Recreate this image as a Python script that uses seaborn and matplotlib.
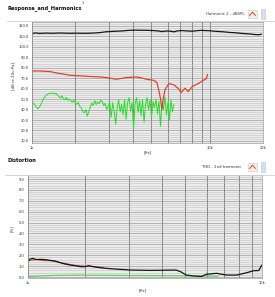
import matplotlib
matplotlib.use('Agg')
import numpy as np
import pandas as pd
import seaborn as sns
import matplotlib.pyplot as plt
from matplotlib.lines import Line2D
from matplotlib.patches import Rectangle
from matplotlib.ticker import FixedLocator, MultipleLocator, NullFormatter, FuncFormatter

# ---------------- data ----------------
resp_freq = [1000, 1050, 1100, 1200, 1300, 1450, 1600, 1800, 2000, 2200, 2400, 2600, 2900,
             3200, 3500, 3800, 4200, 4700, 5100, 5400, 5700, 6000, 6300, 6600, 7000, 7500,
             8000, 8500, 9000, 10000, 11000, 12000, 13000, 14000, 15000, 16000, 17000,
             18000, 19000, 19600]
resp_spl = [112.8, 113.4, 112.9, 113.2, 113.0, 113.3, 113.0, 113.1, 113.0, 113.2, 113.6,
            114.4, 114.9, 115.2, 115.8, 116.0, 115.9, 115.7, 115.3, 114.6, 115.2, 115.0,
            114.4, 115.3, 115.6, 115.2, 115.0, 115.5, 115.8, 115.4, 114.8, 114.4, 113.8,
            113.5, 113.0, 112.6, 112.3, 111.8, 111.6, 112.2]

h2_freq = [1000, 1100, 1186, 1270, 1354, 1500, 1648, 1880, 2150, 2446, 2700, 2980, 3398,
           3876, 4150, 4419, 4842, 5050, 5171, 5300, 5387, 5480, 5612, 5905, 6311, 6647,
           6921, 7100, 7290, 7590, 7991, 8654, 9237, 9610, 9737]
h2_spl = [76.8, 77.0, 76.6, 76.3, 75.2, 74.0, 72.8, 72.2, 71.6, 71.2, 70.3, 69.0, 70.6,
          71.2, 70.2, 69.0, 68.0, 66.0, 59.0, 50.0, 40.0, 50.0, 59.0, 65.0, 63.5, 60.4,
          56.3, 58.5, 60.4, 57.2, 62.0, 65.0, 68.0, 69.7, 73.7]

h2_noise_start, h2_noise_stop = 1000, 6300
noise_spl = [47.8, 46.0, 44.5, 42.0, 40.8, 42.5, 44.8, 48.0, 51.0,
             53.0, 54.2, 55.0, 55.7, 55.2, 56.0, 54.8, 55.5, 54.0, 52.5, 51.0,
             53.2, 50.0, 49.4, 51.5, 48.8, 50.0, 48.4, 47.0, 49.0, 46.3, 45.0, 47.0, 43.0, 41.6,
             38.0, 36.9, 40.0, 33.7, 38.0, 42.0,
             46.3, 44.0, 48.4, 45.0, 47.0, 45.6, 49.0, 47.5, 44.0, 46.0, 40.0, 43.0, 47.5,
             32.5, 46.6, 38.0, 26.0, 42.0, 49.4, 38.0, 45.0, 35.0, 49.4, 30.7, 46.6, 51.4,
             38.4, 46.6, 21.5, 45.7, 51.3, 37.4, 48.5, 34.5, 49.4, 28.0, 44.8, 51.4, 40.0,
             49.4, 33.0, 47.5, 42.0, 50.0, 36.0, 48.0, 24.0, 46.0, 40.0, 52.0, 35.0, 47.0,
             30.0, 49.0, 38.0, 45.0]

thd_freq = [1000, 1020, 1051, 1083, 1126, 1184, 1244, 1307, 1374, 1443, 1517, 1594, 1675,
            1760, 1813, 1944, 2043, 2257, 2491, 2752, 3358, 4300, 4516, 4746, 5100, 5509,
            5789, 6393, 7060, 7796, 8609, 9225, 9694, 9893, 9992]
thd_pct = [1.47, 1.65, 1.71, 1.60, 1.62, 1.60, 1.53, 1.47, 1.31, 1.19, 1.10, 1.04, 0.95,
           0.95, 1.04, 0.92, 0.85, 0.76, 0.70, 0.64, 0.61, 0.64, 0.46, 0.18, 0.10, 0.05,
           0.25, 0.34, 0.18, 0.18, 0.40, 0.58, 0.60, 0.95, 1.10]
h2pct_freq = [1000, 1040, 1090, 1150, 1250, 1400, 1600, 1800, 2100]
h2pct_val = [1.50, 1.55, 1.62, 1.52, 1.50, 1.30, 1.05, 0.98, 0.88]
h3_freq = [1000, 1150, 1300, 1500, 1700, 2000, 2500, 3000, 4000, 5000, 6000, 6500]
h3_pct = [0.05, 0.10, 0.15, 0.17, 0.18, 0.16, 0.15, 0.13, 0.12, 0.10, 0.08, 0.07]

top_ticks = [10, 20, 30, 40, 50, 60, 70, 80, 90, 100, 110, 120]
bot_ticks = [0, 1, 2, 3, 4, 5, 6, 7, 8, 9]
top_xticks = [1000, 10000, 20000]
top_xlabels = ['1k', '10k', '20k']
bot_xticks = [1000, 10000]
bot_xlabels = ['1k', '10k']
grid_freqs = [1750, 2700, 3720, 4700, 5800, 6850, 7950, 9050]

# ---------------- figure ----------------
sns.set_style('white')
plt.rcParams['font.family'] = ['DejaVu Sans']

W, H = 275, 297
fig = plt.figure(figsize=(W / 100, H / 100), dpi=100)


def box(x0, y0, x1, y1):
    return [x0 / W, 1 - y1 / H, (x1 - x0) / W, (y1 - y0) / H]


ax1 = fig.add_axes(box(32, 22, 263, 143))
ax2 = fig.add_axes(box(28, 175, 262, 278))

noise_freq = np.geomspace(h2_noise_start, h2_noise_stop, len(noise_spl))

sns.lineplot(x=noise_freq, y=noise_spl, ax=ax1, color='#22e022', lw=0.7,
             estimator=None, sort=False)
sns.lineplot(x=h2_freq, y=h2_spl, ax=ax1, color='#e0432b', lw=0.9,
             estimator=None, sort=False)
sns.lineplot(x=resp_freq, y=resp_spl, ax=ax1, color='#151515', lw=0.9,
             estimator=None, sort=False)

sns.lineplot(x=h3_freq, y=h3_pct, ax=ax2, color='#4fd84f', lw=0.8,
             estimator=None, sort=False)
sns.lineplot(x=h2pct_freq, y=h2pct_val, ax=ax2, color='#d0504a', lw=0.8,
             estimator=None, sort=False)
sns.lineplot(x=thd_freq, y=thd_pct, ax=ax2, color='#151515', lw=0.9,
             estimator=None, sort=False)


def style(ax, xlim, ylim, yticks, ystep_minor, xticks, xlabels, vminor):
    ax.set_xscale('log')
    ax.set_xlim(*xlim)
    ax.set_ylim(*ylim)
    ax.set_facecolor('#ececec')
    ax.yaxis.set_major_locator(FixedLocator(yticks))
    ax.yaxis.set_minor_locator(MultipleLocator(ystep_minor))
    ax.yaxis.set_major_formatter(FuncFormatter(lambda v, p: f'{v:.1f}'))
    ax.xaxis.set_major_locator(FixedLocator(xticks))
    ax.set_xticklabels(xlabels)
    ax.xaxis.set_minor_locator(FixedLocator(vminor))
    ax.xaxis.set_minor_formatter(NullFormatter())
    ax.yaxis.grid(True, which='minor', color='#c2c2c2', lw=0.4)
    ax.yaxis.grid(True, which='major', color='#9c9c9c', lw=0.5)
    ax.xaxis.grid(True, which='minor', color='#6a6a6a', lw=0.6)
    ax.xaxis.grid(True, which='major', color='#6a6a6a', lw=0.6)
    ax.set_axisbelow(True)
    ax.tick_params(axis='both', which='major', labelsize=2.6, length=1.5, width=0.4,
                   pad=0.8, colors='#333333')
    ax.tick_params(axis='both', which='minor', length=0)
    for s in ax.spines.values():
        s.set_color('#9a9a9a')
        s.set_linewidth(0.5)
    ax.set_xlabel('')
    ax.set_ylabel('')


style(ax1, (1000, 20000), (8.0, 123.8), top_ticks, 2,
      top_xticks, top_xlabels, grid_freqs)
style(ax2, (1000, 10000), (-0.09, 9.37), bot_ticks, 0.2,
      bot_xticks, bot_xlabels, grid_freqs)


def fx(x):
    return x / W


def fy(y):
    return 1 - y / H


# titles
fig.text(fx(7), fy(8), 'Response_and_Harmonics', fontsize=3.7, fontweight='bold',
         ha='left', va='center', color='#111111')
fig.text(fx(83), fy(2.5), '1', fontsize=2.5, ha='center', va='center', color='#333333')
fig.text(fx(7), fy(161), 'Distortion', fontsize=3.7, fontweight='bold',
         ha='left', va='center', color='#111111')

# axis labels
fig.text(fx(13), fy(76), '[dB re 20u Pa]', fontsize=2.8, rotation=90,
         ha='center', va='center', color='#333333')
fig.text(fx(12), fy(228), '[%]', fontsize=2.8, rotation=90,
         ha='center', va='center', color='#333333')
fig.text(fx(148), fy(152), '[Hz]', fontsize=2.8, ha='center', va='center', color='#333333')
fig.text(fx(143), fy(290), '[Hz]', fontsize=2.8, ha='center', va='center', color='#333333')

# separator lines
fig.add_artist(Line2D([fx(7), fx(275)], [fy(21), fy(21)], color='#cfcfcf', lw=0.6))
fig.add_artist(Line2D([fx(5), fx(275)], [fy(175), fy(175)], color='#cfcfcf', lw=0.6))

# legends


def legend(y, label, x_right):
    fig.text(fx(x_right), fy(y), label, fontsize=2.8, ha='right', va='center',
             color='#333333')
    fig.add_artist(Rectangle((fx(248), fy(y + 4)), 9 / W, 8 / H, transform=fig.transFigure,
                             facecolor='#f6efe8', edgecolor='#c9c9c9', lw=0.4))
    fig.add_artist(Line2D([fx(249.5), fx(252.5), fx(255.5)], [fy(y + 1.5), fy(y - 1.8), fy(y + 1.5)],
                          color='#e0432b', lw=0.7))
    fig.add_artist(Rectangle((fx(261), fy(y + 5)), 4 / W, 10 / H, transform=fig.transFigure,
                             facecolor='#d4e0ee', edgecolor='#b8c8da', lw=0.4))


legend(14, 'Harmonic 2 - dBSPL', 245)
legend(167, 'THD - 2nd harmonic', 241)

fig.savefig('out.png', dpi=100, facecolor='white')
